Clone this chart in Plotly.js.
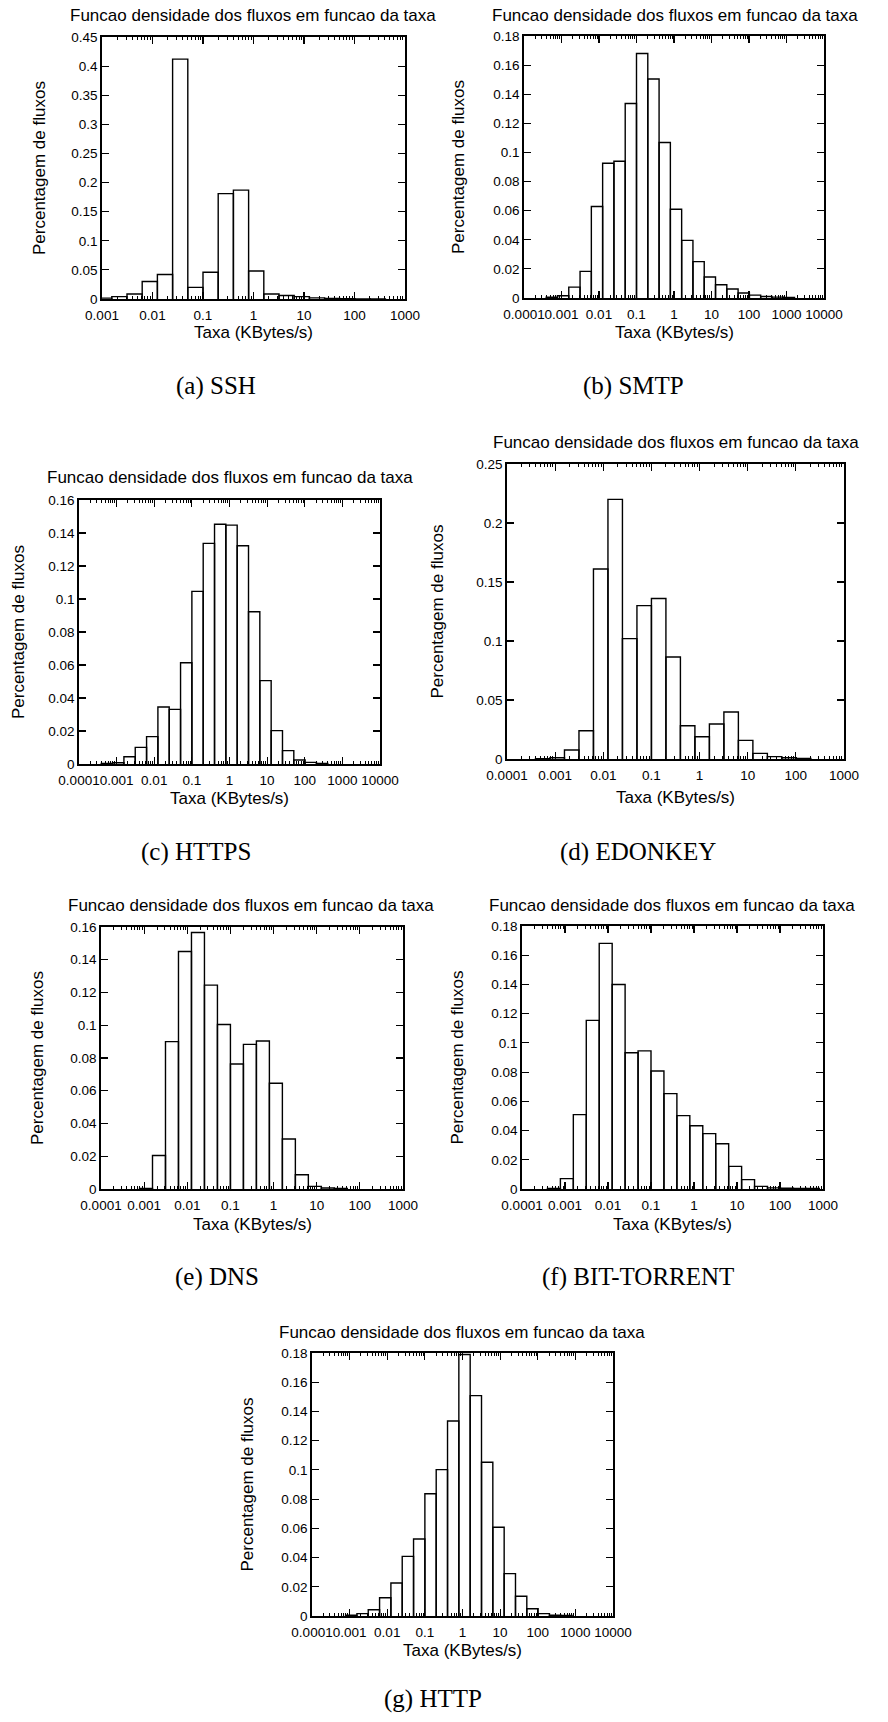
<!DOCTYPE html>
<html><head><meta charset="utf-8">
<script src="https://cdn.plot.ly/plotly-3.0.1.min.js"></script>
<style>html,body{margin:0;padding:0;background:#fff}</style>
</head><body><div id="chart" style="width:888px;height:1722px"></div>
<script>
// Bin edges (KBytes/s), factor-2 log bins
const binEdges = [0.000390625, 0.00078125, 0.0015625, 0.003125, 0.00625, 0.0125, 0.025, 0.05, 0.1, 0.2, 0.4, 0.8, 1.6, 3.2, 6.4, 12.8, 25.6, 51.2, 102.4, 204.8, 409.6, 819.2, 1638.4, 3276.8];

// Fraction of flows in each bin (one value per bin)
const pctSSH        = [0, 0.0015, 0.004, 0.0086, 0.030, 0.042, 0.412, 0.020, 0.046, 0.181, 0.187, 0.048, 0.0086, 0.006, 0.004, 0.002, 0.001, 0.0005, 0.0003, 0.0003, 0, 0, 0];
const pctSMTP       = [0.0005, 0.0015, 0.0075, 0.0183, 0.0629, 0.0926, 0.094, 0.1336, 0.168, 0.1505, 0.1068, 0.061, 0.0396, 0.025, 0.0144, 0.0091, 0.0062, 0.0034, 0.002, 0.001, 0.0006, 0.0004, 0];
const pctHTTPS      = [0.0003, 0.0008, 0.0044, 0.0101, 0.0166, 0.0345, 0.0331, 0.0614, 0.1046, 0.1337, 0.1453, 0.1448, 0.1323, 0.0923, 0.0505, 0.0202, 0.0081, 0.0024, 0.001, 0.0003, 0, 0, 0];
const pctEDONKEY    = [0.0003, 0.001, 0.0076, 0.024, 0.161, 0.220, 0.102, 0.130, 0.136, 0.0864, 0.0282, 0.0189, 0.0297, 0.0398, 0.0158, 0.0048, 0.002, 0.001, 0.0005, 0, 0, 0, 0];
const pctDNS        = [0, 0.0004, 0.0205, 0.090, 0.145, 0.1566, 0.1245, 0.1005, 0.0763, 0.0883, 0.0904, 0.0646, 0.0305, 0.0087, 0.0016, 0.0006, 0.0003, 0, 0, 0, 0, 0, 0];
const pctBITTORRENT = [0.0003, 0.0071, 0.0509, 0.1154, 0.1681, 0.140, 0.0933, 0.0945, 0.0808, 0.0653, 0.0502, 0.0433, 0.0379, 0.031, 0.0155, 0.0064, 0.0018, 0.0008, 0.0005, 0.0004, 0.0003, 0, 0];
const pctHTTP       = [0, 0.0005, 0.0016, 0.0043, 0.0125, 0.0226, 0.0408, 0.0527, 0.0837, 0.1002, 0.1335, 0.179, 0.1508, 0.1052, 0.0607, 0.029, 0.0135, 0.005, 0.0016, 0.0005, 0.0003, 0, 0];

const captions = ["(a) SSH", "(b) SMTP", "(c) HTTPS", "(d) EDONKEY", "(e) DNS", "(f) BIT-TORRENT", "(g) HTTP"];
const plotTitle = "Funcao densidade dos fluxos em funcao da taxa";
const xLabel = "Taxa (KBytes/s)";
const yLabel = "Percentagem de fluxos";

const series = [pctSSH, pctSMTP, pctHTTPS, pctEDONKEY, pctDNS, pctBITTORRENT, pctHTTP];

// Layout (pixel boxes) -- positions only
const W = 888, H = 1722;
const boxes = [
  {L:102, R:405, T:37,   B:299,  xr:[-3,3], ymax:0.45, dt:0.05, tx:253, ty:15,   yt:40,  xt:333,  cx:216, cy:386},
  {L:524, R:824, T:36,   B:298,  xr:[-4,4], ymax:0.18, dt:0.02, tx:675, ty:15,   yt:459, xt:333,  cx:633, cy:386},
  {L:79,  R:380, T:500,  B:764,  xr:[-4,4], ymax:0.16, dt:0.02, tx:230, ty:478,  yt:18,  xt:798,  cx:196, cy:852},
  {L:507, R:844, T:464,  B:759,  xr:[-4,3], ymax:0.25, dt:0.05, tx:676, ty:442,  yt:437, xt:797,  cx:638, cy:852},
  {L:101, R:403, T:927,  B:1189, xr:[-4,3], ymax:0.16, dt:0.02, tx:251, ty:905,  yt:37,  xt:1224, cx:217, cy:1277},
  {L:522, R:823, T:926,  B:1189, xr:[-4,3], ymax:0.18, dt:0.02, tx:672, ty:905,  yt:457, xt:1224, cx:638, cy:1277},
  {L:312, R:613, T:1353, B:1616, xr:[-4,4], ymax:0.18, dt:0.02, tx:462, ty:1332, yt:247, xt:1650, cx:433, cy:1699}
];

const px = x => x / W;
const py = y => 1 - y / H;
const sans = '"Liberation Sans", Arial, sans-serif';
const serif = '"Liberation Serif", "Times New Roman", serif';

const traces = [];
const layout = {
  width: W, height: H, autosize: false,
  margin: {l:0, r:0, t:0, b:0},
  paper_bgcolor: '#fff', plot_bgcolor: '#fff',
  showlegend: false,
  font: {family: sans, color: '#000'},
  annotations: []
};

series.forEach((vals, i) => {
  const n = i + 1;
  const xs = [], ys = [];
  vals.forEach((v, k) => {
    if (!v) return;
    const lo = binEdges[k], hi = binEdges[k + 1];
    xs.push(lo, lo, hi, hi, null);
    ys.push(0, v, v, 0, null);
  });
  traces.push({
    type: 'scatter', mode: 'lines', x: xs, y: ys,
    xaxis: 'x' + n, yaxis: 'y' + n,
    line: {color: '#000', width: 1.4},
    hoverinfo: 'skip', connectgaps: false
  });
  const b = boxes[i];
  const xa = {
    type: 'log', range: b.xr, domain: [px(b.L), px(b.R)],
    anchor: 'y' + n,
    tickmode: 'linear', tick0: 0, dtick: 1,
    tickformat: '~g',
    ticks: 'inside', ticklen: 7, tickwidth: 1.2, tickcolor: '#000',
    minor: {ticks: 'inside', ticklen: 3, tickwidth: 1, tickcolor: '#000', dtick: 'D1', showgrid: false},
    showline: true, linecolor: '#000', linewidth: 1.8, mirror: 'allticks',
    showgrid: false, zeroline: false, tickangle: 0,
    tickfont: {family: sans, size: 13.5, color: '#000'},
    ticklabelstandoff: 3,
    fixedrange: true
  };
  const ya = {
    range: [0, b.ymax], domain: [py(b.B), py(b.T)],
    anchor: 'x' + n,
    tickmode: 'linear', tick0: 0, dtick: b.dt, tickformat: '~g',
    ticks: 'inside', ticklen: 7, tickwidth: 1.2, tickcolor: '#000',
    showline: true, linecolor: '#000', linewidth: 1.8, mirror: 'allticks',
    showgrid: false, zeroline: false,
    tickfont: {family: sans, size: 13.5, color: '#000'},
    fixedrange: true
  };
  layout['xaxis' + (n === 1 ? '' : n)] = xa;
  layout['yaxis' + (n === 1 ? '' : n)] = ya;

  const ycen = (b.T + b.B) / 2, xcen = (b.L + b.R) / 2;
  layout.annotations.push(
    {text: plotTitle, xref: 'paper', yref: 'paper', x: px(b.tx), y: py(b.ty), xanchor: 'center', yanchor: 'middle', showarrow: false, font: {family: sans, size: 17, color: '#000'}},
    {text: yLabel, xref: 'paper', yref: 'paper', x: px(b.yt), y: py(ycen), xanchor: 'center', yanchor: 'middle', textangle: -90, showarrow: false, font: {family: sans, size: 17, color: '#000'}},
    {text: xLabel, xref: 'paper', yref: 'paper', x: px(xcen), y: py(b.xt), xanchor: 'center', yanchor: 'middle', showarrow: false, font: {family: sans, size: 17, color: '#000'}},
    {text: captions[i], xref: 'paper', yref: 'paper', x: px(b.cx), y: py(b.cy), xanchor: 'center', yanchor: 'middle', showarrow: false, font: {family: serif, size: 25, color: '#000'}}
  );
});

Plotly.newPlot('chart', traces, layout, {staticPlot: true, displayModeBar: false});
</script>
</body></html>
